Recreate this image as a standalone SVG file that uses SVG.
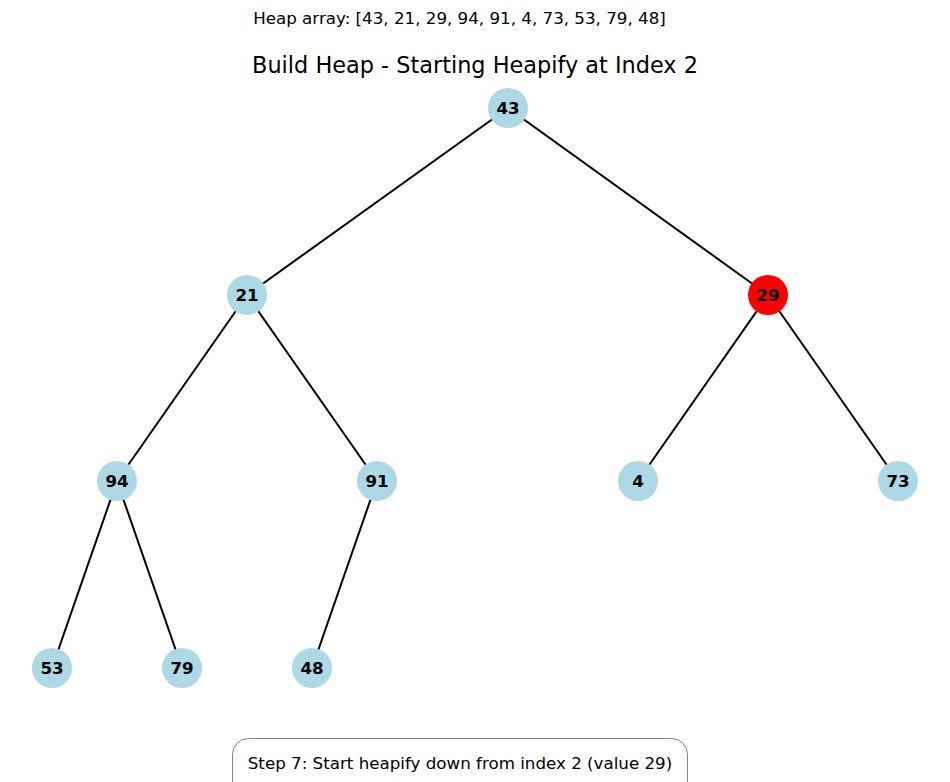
<svg xmlns="http://www.w3.org/2000/svg" width="950" height="782" viewBox="0 0 950 782">
  <style>
    .edge { stroke: #000; stroke-width: 2; }
    .node circle { fill: #add8e6; }
    .node.active circle { fill: #ff0000; }
    .node text { font-family: "DejaVu Sans", sans-serif; font-size: 16.7px; font-weight: bold; fill: #000; text-anchor: middle; dominant-baseline: central; }
    .caption { font-family: "DejaVu Sans", sans-serif; fill: #000; text-anchor: middle; }
  </style>
  <rect width="950" height="782" fill="#fff"/>
  <text class="caption" x="459.5" y="24" font-size="16.7">Heap array: [43, 21, 29, 94, 91, 4, 73, 53, 79, 48]</text>
  <text class="caption" x="475" y="73" font-size="22.4">Build Heap - Starting Heapify at Index 2</text>

  <g id="edges">
    <line class="edge" x1="508" y1="108" x2="247" y2="295"/>
    <line class="edge" x1="508" y1="108" x2="768" y2="295"/>
    <line class="edge" x1="247" y1="295" x2="117" y2="481"/>
    <line class="edge" x1="247" y1="295" x2="377" y2="481"/>
    <line class="edge" x1="768" y1="295" x2="638" y2="481"/>
    <line class="edge" x1="768" y1="295" x2="898" y2="481"/>
    <line class="edge" x1="117" y1="481" x2="52" y2="668"/>
    <line class="edge" x1="117" y1="481" x2="182" y2="668"/>
    <line class="edge" x1="377" y1="481" x2="312" y2="668"/>
  </g>

  <g id="n0" class="node"><circle cx="508" cy="108" r="20"/><text x="508" y="108">43</text></g>
  <g id="n1" class="node"><circle cx="247" cy="295" r="20"/><text x="247" y="295">21</text></g>
  <g id="n2" class="node active"><circle cx="768" cy="295" r="20"/><text x="768" y="295">29</text></g>
  <g id="n3" class="node"><circle cx="117" cy="481" r="20"/><text x="117" y="481">94</text></g>
  <g id="n4" class="node"><circle cx="377" cy="481" r="20"/><text x="377" y="481">91</text></g>
  <g id="n5" class="node"><circle cx="638" cy="481" r="20"/><text x="638" y="481">4</text></g>
  <g id="n6" class="node"><circle cx="898" cy="481" r="20"/><text x="898" y="481">73</text></g>
  <g id="n7" class="node"><circle cx="52" cy="668" r="20"/><text x="52" y="668">53</text></g>
  <g id="n8" class="node"><circle cx="182" cy="668" r="20"/><text x="182" y="668">79</text></g>
  <g id="n9" class="node"><circle cx="312" cy="668" r="20"/><text x="312" y="668">48</text></g>

  <g id="status">
    <rect x="232.5" y="738.5" width="455" height="60" rx="16" fill="#fff" stroke="#808080" stroke-width="1"/>
    <text class="caption" x="460" y="768.5" font-size="16.7">Step 7: Start heapify down from index 2 (value 29)</text>
  </g>
</svg>
